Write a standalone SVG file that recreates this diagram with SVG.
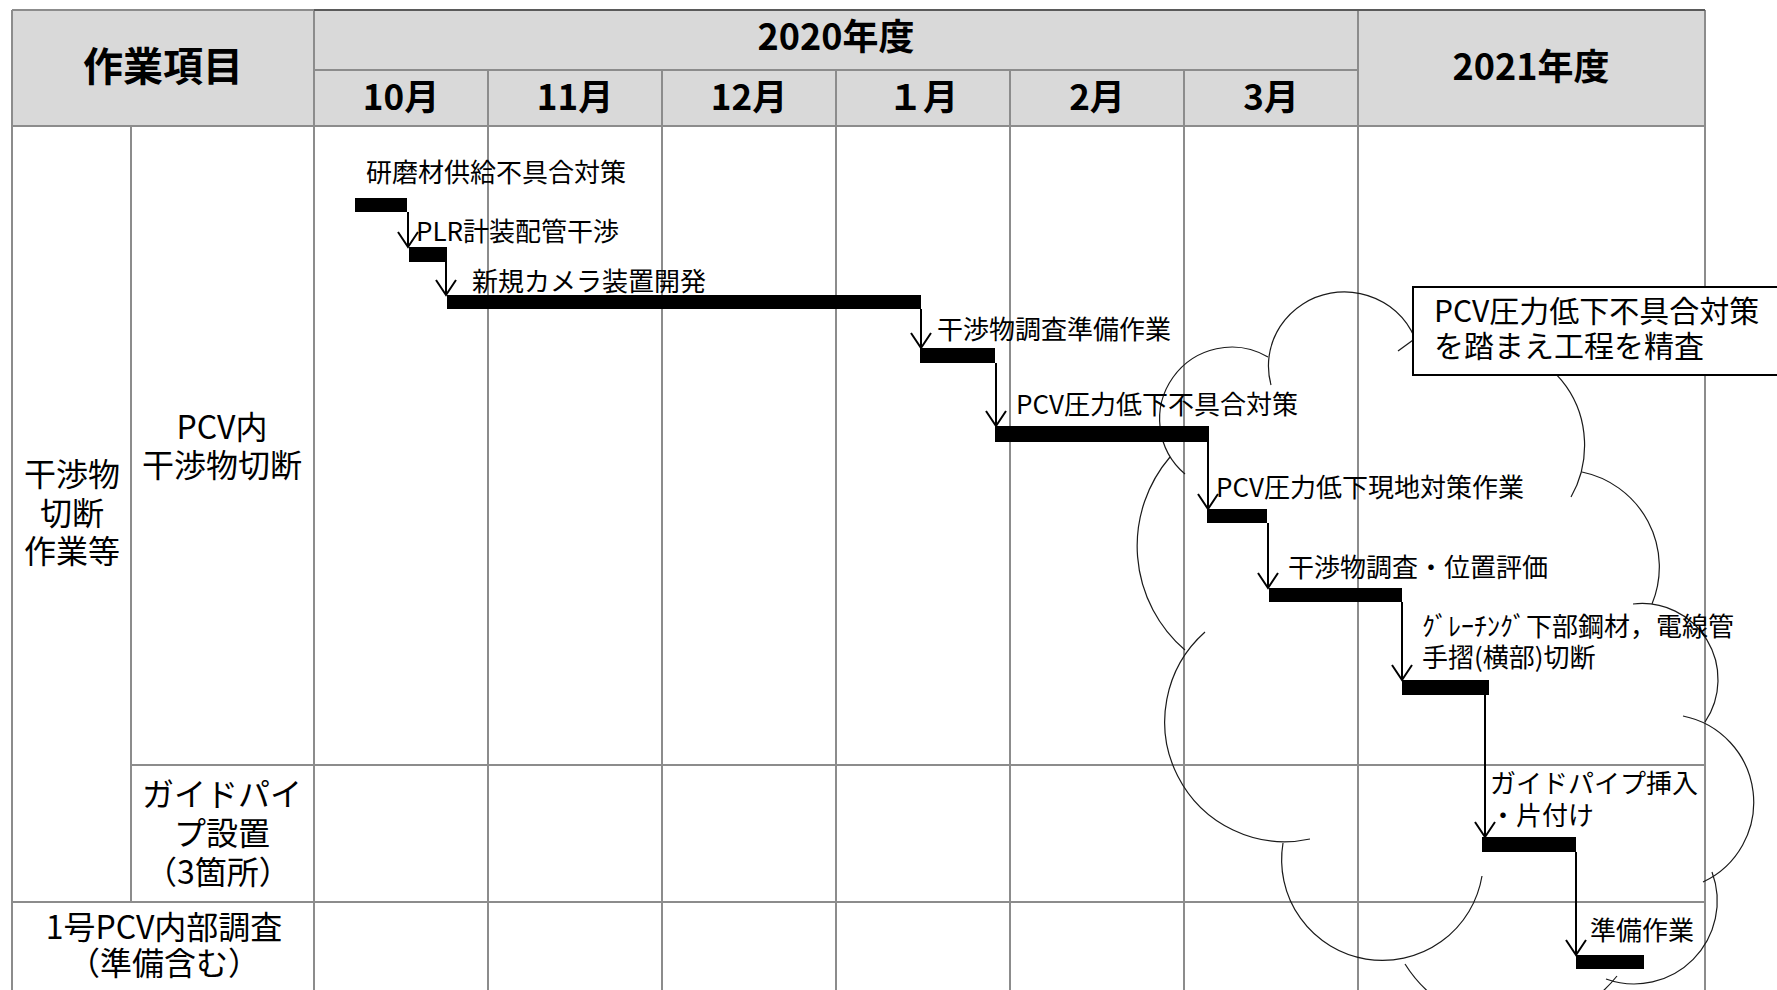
<svg xmlns="http://www.w3.org/2000/svg" width="1777" height="990" viewBox="0 0 1777 990">
<defs>
<style>
.grid{stroke:#8c8c8c;stroke-width:2;fill:none}
.t{font-family:"Noto Sans CJK JP","Noto Sans",sans-serif;fill:#000}
.hdr{font-weight:700;text-anchor:middle}
.h34{font-size:35px}
.h36{font-size:36px}
.side{font-size:32px;text-anchor:middle}
.lbl{font-size:26px}
.bar{fill:#000}
.arr{stroke:#000;stroke-width:2;fill:none;marker-end:url(#ah)}
.cloud{stroke:#1a1a1a;stroke-width:1.2;fill:none}
</style>
<marker id="ah" markerUnits="userSpaceOnUse" viewBox="-17 -12 20 24" markerWidth="20" markerHeight="24" refX="0" refY="0" orient="auto" overflow="visible">
<path d="M-15,-10 L0,0 L-15,10" fill="none" stroke="#000" stroke-width="2"/>
</marker>
</defs>
<rect width="1777" height="990" fill="#fff"/>
<g id="table">
<rect x="12" y="10" width="1693" height="116" fill="#d9d9d9"/>
<path class="grid" d="M12,10 V990 M12,10 H314 M314,10 V990 M1358,10 V990 M1705,10 V990 M314,70 H1358 M12,126 H1705 M488,70 V990 M662,70 V990 M836,70 V990 M1010,70 V990 M1184,70 V990 M131,126 V902 M131,765 H1705 M12,902 H1705"/>
<path d="M314,10 H1705" stroke="#5a5a5a" stroke-width="2" fill="none"/>
</g>
<g id="header">
<text class="t hdr" x="163" y="81" font-size="40">作業項目</text>
<text class="t hdr h36" x="836" y="50">2020年度</text>
<text class="t hdr h36" x="1531" y="80">2021年度</text>
<text class="t hdr h34" x="401" y="110">10月</text>
<text class="t hdr h34" x="575" y="110">11月</text>
<text class="t hdr h34" x="749" y="110">12月</text>
<text class="t hdr h34" x="923" y="110">１月</text>
<text class="t hdr h34" x="1097" y="110">2月</text>
<text class="t hdr h34" x="1271" y="110">3月</text>
</g>
<g id="row-labels">
<text class="t side" id="lbl-kanshobutsu"><tspan x="72" y="486">干渉物</tspan><tspan x="72" y="525">切断</tspan><tspan x="72" y="563">作業等</tspan></text>
<text class="t side" id="lbl-pcv"><tspan x="222" y="439">PCV内</tspan><tspan x="222" y="477">干渉物切断</tspan></text>
<text class="t side" id="lbl-guide"><tspan x="222" y="806">ガイドパイ</tspan><tspan x="222" y="845">プ設置</tspan><tspan x="218" y="884">（3箇所）</tspan></text>
<text class="t side" id="lbl-unit1"><tspan x="164" y="939">1号PCV内部調査</tspan><tspan x="164" y="975">（準備含む）</tspan></text>
</g>
<g id="cloud" class="cloud">
<path d="M1185,650 A137,137 0 0 1 1170,457"/>
<path d="M1185,474 A72,72 0 0 1 1268,357"/>
<path d="M1271,385 A76,74 0 1 1 1420,358"/>
<path d="M1398,351 L1420,335"/>
<path d="M1471,356 A85,95 0 0 1 1571,497"/>
<path d="M1582,472 A97,97 0 0 1 1652,604"/>
<path d="M1633,604 A76,76 0 0 1 1705,722"/>
<path d="M1683,716 A88,88 0 0 1 1703,882"/>
<path d="M1712,872 A83,83 0 0 1 1606,979"/>
<path d="M1617,976 A130,130 0 0 1 1405,964"/>
<path d="M1482,876 A100,100 0 1 1 1283,843"/>
<path d="M1310,839 A120,120 0 0 1 1205,632"/>
</g>
<g id="callout">
<rect x="1413" y="287" width="380" height="88" fill="#fff" stroke="#000" stroke-width="2"/>
<text class="t" font-size="30"><tspan x="1434" y="322">PCV圧力低下不具合対策</tspan><tspan x="1434" y="357">を踏まえ工程を精査</tspan></text>
</g>
<g id="connectors">
<path class="arr" d="M408,212 V247"/>
<path class="arr" d="M446,262 V295"/>
<path class="arr" d="M921,309 V348"/>
<path class="arr" d="M996,363 V426"/>
<path class="arr" d="M1208,442 V509"/>
<path class="arr" d="M1268,523 V588"/>
<path class="arr" d="M1402,602 V680"/>
<path class="arr" d="M1485,695 V837"/>
<path class="arr" d="M1576,852 V955"/>
</g>
<g id="task1"><rect class="bar" x="355" y="198" width="52" height="14"/><text class="t lbl" x="366" y="182">研磨材供給不具合対策</text></g>
<g id="task2"><rect class="bar" x="409" y="247" width="38" height="15"/><text class="t lbl" x="416" y="241">PLR計装配管干渉</text></g>
<g id="task3"><rect class="bar" x="447" y="295" width="474" height="14"/><text class="t lbl" x="472" y="291">新規カメラ装置開発</text></g>
<g id="task4"><rect class="bar" x="920" y="348" width="75" height="15"/><text class="t lbl" x="937" y="339">干渉物調査準備作業</text></g>
<g id="task5"><rect class="bar" x="995" y="426" width="214" height="16"/><text class="t lbl" x="1016" y="414">PCV圧力低下不具合対策</text></g>
<g id="task6"><rect class="bar" x="1207" y="509" width="60" height="14"/><text class="t lbl" x="1216" y="497">PCV圧力低下現地対策作業</text></g>
<g id="task7"><rect class="bar" x="1269" y="588" width="133" height="14"/><text class="t lbl" x="1288" y="577">干渉物調査・位置評価</text></g>
<g id="task8"><rect class="bar" x="1402" y="680" width="87" height="15"/><text class="t lbl"><tspan x="1422" y="636">ｸﾞﾚｰﾁﾝｸﾞ下部鋼材，電線管</tspan><tspan x="1422" y="667">手摺(横部)切断</tspan></text></g>
<g id="task9"><rect class="bar" x="1482" y="837" width="94" height="15"/><text class="t lbl"><tspan x="1490" y="793">ガイドパイプ挿入</tspan><tspan x="1490" y="825">・片付け</tspan></text></g>
<g id="task10"><rect class="bar" x="1576" y="955" width="68" height="14"/><text class="t lbl" x="1590" y="940">準備作業</text></g>
</svg>
